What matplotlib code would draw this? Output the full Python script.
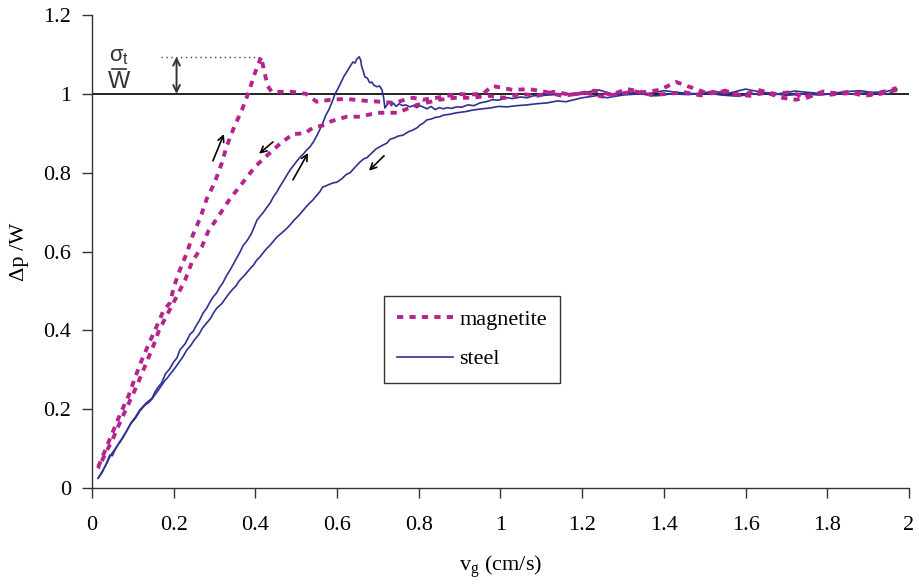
import matplotlib
matplotlib.use("Agg")
import matplotlib.pyplot as plt

# ---------------- data ----------------
mag_up_x = [0.015, 0.03, 0.05, 0.07, 0.09, 0.105, 0.12, 0.14, 0.16, 0.175, 0.191, 0.2, 0.213, 0.232, 0.247,
            0.266, 0.281, 0.30, 0.318, 0.33, 0.348, 0.367, 0.382, 0.399, 0.414, 0.421, 0.43, 0.44, 0.465,
            0.49, 0.524, 0.55, 0.585, 0.62, 0.644, 0.673, 0.705, 0.742, 0.765, 0.786, 0.81, 0.844, 0.871,
            0.893, 0.92, 0.957, 0.98, 1.03, 1.07, 1.11, 1.15, 1.19, 1.23, 1.27, 1.31, 1.35, 1.39, 1.43,
            1.47, 1.51, 1.55, 1.59, 1.63, 1.67, 1.71, 1.75, 1.79, 1.83, 1.87, 1.91, 1.95, 1.97]
mag_up_y = [0.053, 0.09, 0.14, 0.19, 0.235, 0.279, 0.32, 0.368, 0.414, 0.45, 0.47, 0.508, 0.548, 0.596, 0.642,
            0.688, 0.734, 0.774, 0.825, 0.868, 0.916, 0.959, 1.0, 1.053, 1.094, 1.06, 1.02, 1.005, 1.005,
            1.005, 1.0, 0.98, 0.985, 0.987, 0.985, 0.982, 0.98, 0.977, 0.985, 0.99, 0.985, 0.99, 0.995,
            1.0, 0.998, 1.0, 1.02, 1.01, 1.012, 1.005, 0.995, 1.0, 1.008, 0.998, 1.012, 1.004, 1.01, 1.03,
            1.015, 1.0, 1.008, 0.995, 1.01, 1.0, 1.004, 0.99, 1.006, 1.0, 1.003, 1.0, 1.008, 1.015]

mag_dn_x = [1.97, 1.93, 1.89, 1.85, 1.81, 1.77, 1.725, 1.69, 1.65, 1.61, 1.57, 1.53, 1.49, 1.45, 1.41,
            1.37, 1.33, 1.29, 1.25, 1.21, 1.17, 1.13, 1.09, 1.05, 1.01, 0.97, 0.93, 0.89, 0.85, 0.796,
            0.747, 0.698, 0.656, 0.624, 0.587, 0.57, 0.541, 0.521, 0.492, 0.46, 0.428, 0.399, 0.367,
            0.338, 0.313, 0.284, 0.269, 0.245, 0.228, 0.208, 0.186, 0.164, 0.15, 0.13, 0.11, 0.09, 0.07,
            0.049, 0.037, 0.02, 0.015]
mag_dn_y = [1.01, 1.0, 0.995, 1.005, 0.998, 1.002, 0.985, 0.99, 1.003, 0.995, 1.0, 1.008, 0.996, 1.004, 1.0,
            0.997, 1.006, 1.0, 0.993, 1.002, 0.998, 1.005, 0.995, 1.0, 0.99, 0.995, 0.99, 0.99, 0.985, 0.972,
            0.952, 0.952, 0.942, 0.942, 0.931, 0.921, 0.914, 0.90, 0.898, 0.873, 0.843, 0.815, 0.772,
            0.734, 0.695, 0.65, 0.612, 0.574, 0.528, 0.487, 0.444, 0.40, 0.36, 0.31, 0.26, 0.215, 0.17,
            0.12, 0.096, 0.06, 0.05]

st_up_x = [0.015, 0.025, 0.035, 0.044, 0.05, 0.06, 0.07, 0.076, 0.085, 0.095, 0.105, 0.117, 0.125, 0.132,
           0.14, 0.147, 0.155, 0.162, 0.17, 0.18, 0.19, 0.2, 0.208, 0.215, 0.228, 0.24, 0.248, 0.255,
           0.263, 0.272, 0.28, 0.288, 0.296, 0.305, 0.313, 0.32, 0.33, 0.338, 0.346, 0.355, 0.362, 0.37,
           0.38, 0.39, 0.397, 0.404, 0.412, 0.42, 0.428, 0.436, 0.445, 0.453, 0.46, 0.468, 0.476, 0.485,
           0.493, 0.502, 0.51, 0.518, 0.526, 0.534, 0.542, 0.55, 0.558, 0.565, 0.572, 0.58, 0.588, 0.595,
           0.603, 0.61, 0.617, 0.624, 0.632, 0.639, 0.644, 0.648, 0.654, 0.658, 0.66, 0.664, 0.668, 0.674,
           0.68, 0.685, 0.69, 0.698, 0.704, 0.71, 0.714, 0.717, 0.722, 0.728, 0.733, 0.737, 0.745, 0.752,
           0.76, 0.768, 0.778, 0.787, 0.795, 0.803, 0.812, 0.82, 0.83, 0.84, 0.85, 0.86, 0.87, 0.88, 0.893,
           0.905, 0.92, 0.935, 0.95, 0.965, 0.98, 0.995, 1.016, 1.03, 1.05, 1.065, 1.08, 1.1, 1.12, 1.16,
           1.2, 1.24, 1.28, 1.32, 1.36, 1.4, 1.44, 1.48, 1.52, 1.56, 1.6, 1.64, 1.68, 1.72, 1.76, 1.8,
           1.84, 1.88, 1.92, 1.95, 1.97]
st_up_y = [0.025, 0.04, 0.062, 0.084, 0.082, 0.105, 0.118, 0.13, 0.145, 0.165, 0.178, 0.198, 0.207, 0.215,
           0.222, 0.228, 0.245, 0.256, 0.266, 0.29, 0.302, 0.32, 0.33, 0.35, 0.366, 0.39, 0.398, 0.412,
           0.425, 0.444, 0.455, 0.47, 0.484, 0.495, 0.51, 0.52, 0.54, 0.553, 0.568, 0.585, 0.598, 0.615,
           0.628, 0.645, 0.662, 0.68, 0.69, 0.7, 0.712, 0.723, 0.74, 0.752, 0.765, 0.778, 0.792, 0.807,
           0.818, 0.83, 0.84, 0.848, 0.858, 0.866, 0.878, 0.893, 0.91, 0.926, 0.945, 0.96, 0.98, 1.0,
           1.015, 1.03, 1.045, 1.056, 1.07, 1.081, 1.078, 1.088, 1.094, 1.085, 1.07, 1.058, 1.043, 1.04,
           1.028, 1.03, 1.022, 1.018, 1.02, 1.01, 0.99, 0.964, 0.972, 0.98, 0.97, 0.977, 0.968, 0.975,
           0.97, 0.972, 0.967, 0.97, 0.965, 0.97, 0.966, 0.962, 0.968, 0.96, 0.965, 0.962, 0.965, 0.963, 0.967,
           0.966, 0.972, 0.97, 0.977, 0.98, 0.985, 0.984, 0.99, 0.988, 0.992, 0.99, 0.995, 0.996, 0.997, 1.0,
           1.002, 1.01, 0.998, 1.005, 1.0, 1.008, 1.003, 1.0, 1.006, 1.002, 1.012, 1.004, 1.0, 1.007, 1.003,
           0.999, 1.005, 1.008, 1.002, 1.0, 1.01]

st_dn_x = [1.97, 1.94, 1.9, 1.86, 1.82, 1.78, 1.74, 1.7, 1.66, 1.62, 1.58, 1.54, 1.5, 1.46, 1.42, 1.38,
           1.34, 1.3, 1.26, 1.24, 1.2, 1.18, 1.16, 1.14, 1.114, 1.09, 1.065, 1.04, 1.016, 0.995, 0.974,
           0.955, 0.933, 0.915, 0.893, 0.875, 0.86, 0.852, 0.84, 0.83, 0.82, 0.81, 0.803, 0.796, 0.785,
           0.775, 0.761, 0.75, 0.74, 0.73, 0.722, 0.712, 0.705, 0.695, 0.685, 0.673, 0.665, 0.655, 0.645,
           0.632, 0.622, 0.612, 0.6, 0.59, 0.58, 0.572, 0.565, 0.558, 0.55, 0.541, 0.532, 0.523, 0.514,
           0.505, 0.495, 0.487, 0.48, 0.47, 0.462, 0.453, 0.443, 0.435, 0.428, 0.42, 0.411, 0.403, 0.395,
           0.39, 0.38, 0.372, 0.367, 0.36, 0.352, 0.345, 0.336, 0.326, 0.318, 0.306, 0.298, 0.29, 0.28,
           0.27, 0.262, 0.25, 0.242, 0.232, 0.222, 0.215, 0.207, 0.2, 0.192, 0.185, 0.178, 0.17, 0.162,
           0.155, 0.147, 0.14, 0.132, 0.125, 0.117, 0.107, 0.095, 0.085, 0.076, 0.068, 0.06, 0.05, 0.044,
           0.035, 0.025, 0.015]
st_dn_y = [1.012, 1.005, 1.003, 0.999, 1.001, 0.997, 1.0, 0.996, 1.002, 1.0, 0.994, 0.997, 1.003, 0.998,
           1.0, 0.995, 1.0, 0.997, 0.99, 0.996, 0.99, 0.985, 0.98, 0.982, 0.977, 0.975, 0.972, 0.97, 0.967,
           0.968, 0.964, 0.962, 0.959, 0.955, 0.952, 0.948, 0.946, 0.942, 0.94, 0.936, 0.934, 0.925, 0.921,
           0.914, 0.908, 0.904, 0.895, 0.893, 0.888, 0.885, 0.875, 0.87, 0.866, 0.86, 0.85, 0.838, 0.835,
           0.826, 0.815, 0.80, 0.795, 0.785, 0.776, 0.774, 0.77, 0.766, 0.764, 0.752, 0.742, 0.731, 0.722,
           0.712, 0.701, 0.69, 0.68, 0.67, 0.662, 0.652, 0.645, 0.637, 0.625, 0.615, 0.608, 0.598, 0.586,
           0.578, 0.565, 0.56, 0.548, 0.538, 0.533, 0.525, 0.512, 0.505, 0.494, 0.48, 0.468, 0.457, 0.445,
           0.43, 0.418, 0.405, 0.39, 0.375, 0.362, 0.35, 0.332, 0.322, 0.31, 0.30, 0.29, 0.28, 0.272, 0.26,
           0.248, 0.238, 0.226, 0.218, 0.212, 0.205, 0.195, 0.178, 0.163, 0.145, 0.128, 0.118, 0.103, 0.09,
           0.08, 0.06, 0.042, 0.025]

xticks = [0, 0.2, 0.4, 0.6, 0.8, 1.0, 1.2, 1.4, 1.6, 1.8, 2.0]
xticklabels = ["0", "0.2", "0.4", "0.6", "0.8", "1", "1.2", "1.4", "1.6", "1.8", "2"]
yticks = [0, 0.2, 0.4, 0.6, 0.8, 1.0, 1.2]
yticklabels = ["0", "0.2", "0.4", "0.6", "0.8", "1", "1.2"]

MAG = "#B5238F"
STEEL = "#2E3192"
serif = "Liberation Serif"

fig = plt.figure(figsize=(9.19, 5.88), dpi=100)
ax = fig.add_axes([0.1001, 0.170, 0.889, 0.8045])

ax.plot([0, 2], [1, 1], color="#222222", lw=1.4, zorder=1)
ax.plot(mag_up_x, mag_up_y, color=MAG, lw=2.8, dashes=(1.6, 1.6), label="magnetite", zorder=3)
ax.plot(mag_dn_x, mag_dn_y, color=MAG, lw=2.8, dashes=(1.6, 1.6), zorder=3)
ax.plot(st_up_x, st_up_y, color=STEEL, lw=1.2, label="steel", zorder=2)
ax.plot(st_dn_x, st_dn_y, color=STEEL, lw=1.2, zorder=2)

# direction arrows
arrows = [((0.296, 0.83), (0.323, 0.898)),
          ((0.443, 0.878), (0.409, 0.848)),
          ((0.492, 0.782), (0.529, 0.85)),
          ((0.715, 0.843), (0.678, 0.805))]
for start, end in arrows:
    ax.annotate("", xy=end, xytext=start,
                arrowprops=dict(arrowstyle="->", color="black", lw=1.2, mutation_scale=11,
                                shrinkA=0, shrinkB=0))

# sigma_t / W annotation
ax.plot([0.17, 0.414], [1.094, 1.094], color="#444444", lw=1.0, ls=(0, (1, 2.5)))
ax.annotate("", xy=(0.207, 1.0), xytext=(0.207, 1.094),
            arrowprops=dict(arrowstyle="<->", color="#333333", lw=1.4, mutation_scale=12,
                            shrinkA=0, shrinkB=0))
ax.plot([0.05, 0.083], [1.063, 1.063], color="#333333", lw=1.2)
ax.text(0.0665, 1.067, r"σ$_\mathregular{t}$", ha="center", va="bottom", fontsize=16,
        family="Liberation Sans", color="#333333")
ax.text(0.0665, 1.058, "W", ha="center", va="top", fontsize=17, family="Liberation Sans",
        color="#333333")

ax.set_xlim(0, 2)
ax.set_ylim(0, 1.2)
ax.set_xticks(xticks)
ax.set_xticklabels(xticklabels, family=serif, fontsize=16)
ax.set_yticks(yticks)
ax.set_yticklabels(yticklabels, family=serif, fontsize=16)
ax.tick_params(direction="out", length=7, width=1.0, color="#333333")
ax.tick_params(axis="x", pad=13)
ax.tick_params(axis="y", pad=8)
for s in ["top", "right"]:
    ax.spines[s].set_visible(False)
for s in ["left", "bottom"]:
    ax.spines[s].set_color("#333333")
    ax.spines[s].set_linewidth(1.0)

ax.set_xlabel(r"v$_\mathregular{g}$ (cm/s)", family=serif, fontsize=16, labelpad=14)
ax.set_ylabel("Δp /W", family=serif, fontsize=16, labelpad=10)

leg = ax.legend(loc="upper left", bbox_to_anchor=(0.357, 0.406), frameon=True, fancybox=False,
                edgecolor="#333333", framealpha=1, prop={"family": serif, "size": 16},
                handlelength=2.5, borderpad=0.6, labelspacing=0.85, handletextpad=0.3,
                borderaxespad=0)
leg.get_frame().set_linewidth(1.0)

fig.savefig("out.png", dpi=100)
